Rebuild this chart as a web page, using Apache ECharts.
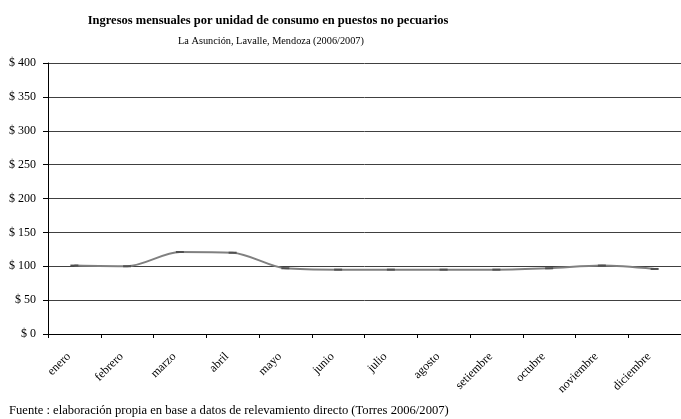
<!DOCTYPE html>
<html><head><meta charset="utf-8">
<script src="https://cdn.jsdelivr.net/npm/echarts@6/dist/echarts.min.js"></script>
<style>html,body{margin:0;padding:0;background:#fff}#c{width:681px;height:419px}</style>
</head><body><div id="c"></div>
<script>
const months = ['enero','febrero','marzo','abril','mayo','junio','julio','agosto','setiembre','octubre','noviembre','diciembre'];
const ingresos = [101, 100, 121, 120, 97, 95, 95, 95, 95, 97, 101, 96];
const yTicks = [0, 50, 100, 150, 200, 250, 300, 350, 400];
const titleText = 'Ingresos mensuales por unidad de consumo en puestos no pecuarios';
const subtitleText = 'La Asunción, Lavalle, Mendoza (2006/2007)';
const sourceText = 'Fuente : elaboración propia en base a datos de relevamiento directo (Torres 2006/2007)';

const serif = '"Liberation Serif", "DejaVu Serif", serif';
const chart = echarts.init(document.getElementById('c'), null, {renderer: 'canvas'});
chart.setOption({
  animation: false,
  backgroundColor: '#fff',
  title: [
    {text: titleText, left: 263, top: 9, textAlign: 'center',
     textStyle: {fontFamily: serif, fontWeight: 'bold', fontSize: 12.5, color: '#000'}},
    {text: subtitleText, left: 266, top: 31, textAlign: 'center',
     textStyle: {fontFamily: serif, fontWeight: 'normal', fontSize: 10.3, color: '#000'}},
    {text: sourceText, left: 4, top: 399,
     textStyle: {fontFamily: serif, fontWeight: 'normal', fontSize: 12.6, color: '#000'}}
  ],
  grid: {left: 48, top: 63, width: 638, bottom: 85, containLabel: false},
  xAxis: {
    type: 'category', data: months, boundaryGap: true,
    axisLine: {lineStyle: {color: '#000', width: 1}},
    axisTick: {show: true, length: 4, lineStyle: {color: '#000'}},
    axisLabel: {rotate: 45, interval: 0, margin: 15, padding: [0, 8, 0, 0],
      fontFamily: serif, fontSize: 12, color: '#000'}
  },
  yAxis: {
    type: 'value', min: 0, max: 400, interval: 50,
    axisLine: {show: true, lineStyle: {color: '#000', width: 1}},
    axisTick: {show: true, length: 5, lineStyle: {color: '#000'}},
    axisLabel: {margin: 12, fontFamily: serif, fontSize: 12, color: '#000',
      formatter: v => yTicks.includes(v) ? '$ ' + v : ''},
    splitLine: {show: true, lineStyle: {color: '#404040', width: 1}}
  },
  series: [{
    type: 'line', data: ingresos, smooth: 0.3,
    symbol: 'rect', symbolSize: [8, 2], showSymbol: true,
    itemStyle: {color: '#505050'},
    lineStyle: {color: '#808080', width: 2}
  }]
});
</script></body></html>
